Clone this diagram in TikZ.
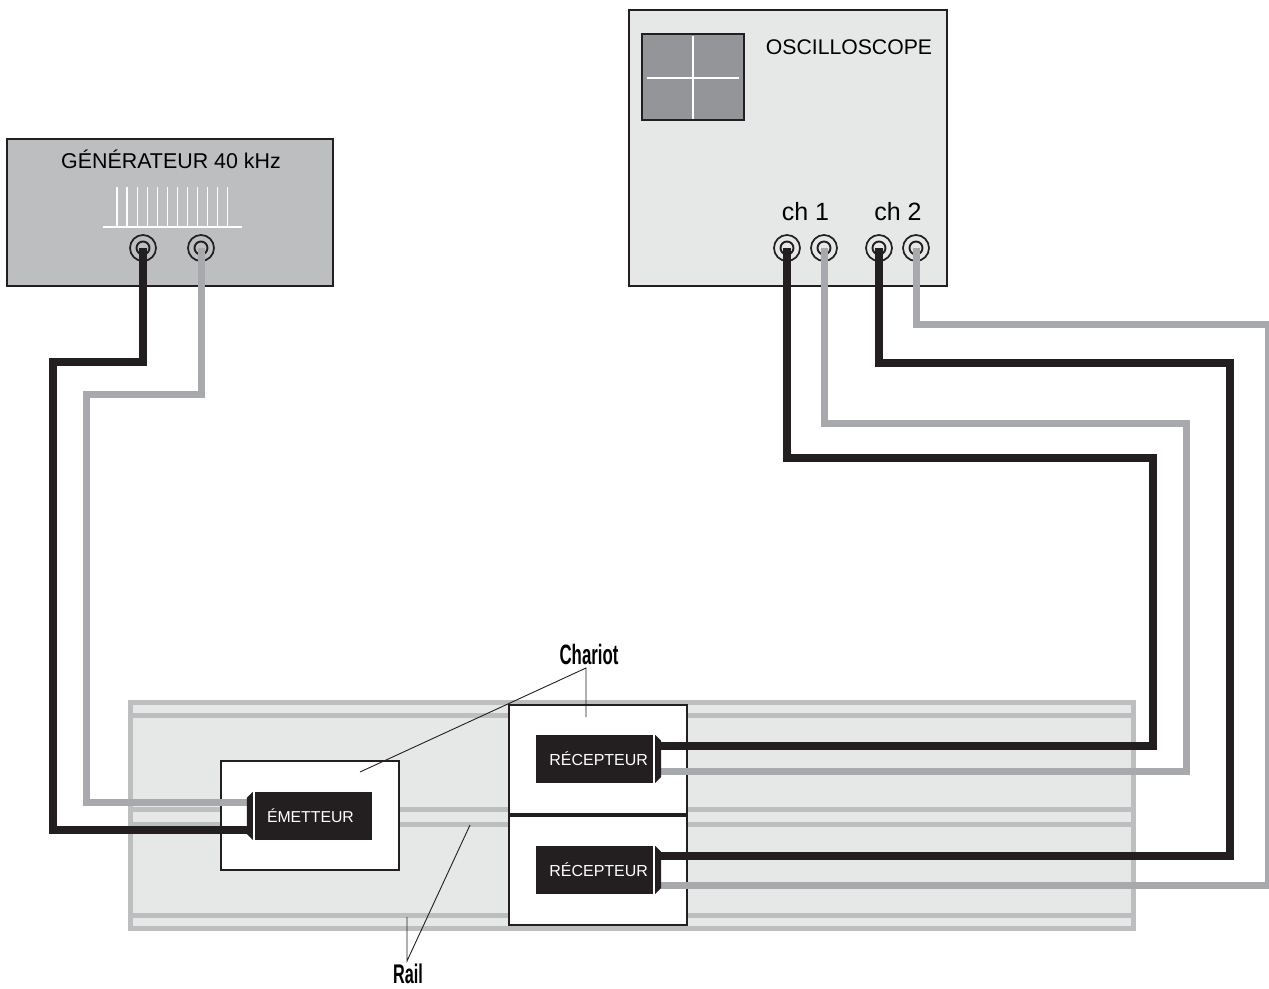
\documentclass[tikz,border=0pt]{standalone}
\usepackage{fontspec}
\setmainfont{Liberation Sans}
\newfontfamily\narrowfont[FakeStretch=0.6]{Liberation Sans Bold}
\usepackage{xcolor}
\usepackage{tikz}
\usetikzlibrary{calc}
\definecolor{inkblack}{RGB}{35,31,32}
\definecolor{wiregray}{RGB}{167,169,172}
\definecolor{railgray}{RGB}{188,190,192}
\definecolor{panelgray}{RGB}{230,231,231}
\definecolor{screengray}{RGB}{147,149,152}
\newcommand{\sized}[1]{\fontsize{#1}{#1}\selectfont}
\tikzstyle{panel} = [draw=inkblack, line width=2pt, inner sep=0pt]
\tikzstyle{jack} = [circle, draw=inkblack, line width=1.7pt, minimum size=26pt, inner sep=0pt]
\tikzstyle{jackin} = [circle, draw=inkblack, line width=1.9pt, minimum size=13pt, inner sep=0pt]
\tikzstyle{wireblack} = [draw=inkblack, line width=7.4pt]
\tikzstyle{wiregrey} = [draw=wiregray, line width=7pt]
\tikzstyle{railband} = [draw=railgray, line width=5pt]
\tikzstyle{chariot} = [panel, fill=white, minimum width=178pt, minimum height=109pt]
\tikzstyle{probe} = [fill=inkblack, text=white, inner ysep=0pt, minimum height=48pt, minimum width=117pt]
\tikzstyle{leader} = [draw=inkblack, line width=0.9pt]

\begin{document}
\begin{tikzpicture}[x=1pt, y=-1pt]
        \useasboundingbox (0,0) rectangle (1269,988);

        \draw[railband, fill=panelgray] (130.5,702.5) rectangle (1133.5,928.5);
        \foreach \y in {715, 809.5, 824.5, 915.5} {
            \draw[railband] (128,\y) -- (1136,\y);
        }

        \node[panel, fill=railgray, minimum width=326pt, minimum height=147pt] (generateur) at (170,212.5) {};
        \node[anchor=center] (generateurtitre) at (171,159) {\sized{21.4}GÉNÉRATEUR 40 kHz};
        \draw[white, line width=1.3pt] (103,227) -- (242,227);
        \foreach \i in {0,...,11} {
            \draw[white, line width=1.2pt] ({117+10.05*\i},187) -- ({117+10.05*\i},227);
        }

        \node[panel, fill=panelgray, minimum width=318pt, minimum height=276pt] (oscilloscope) at (788,148) {};
        \node[panel, fill=screengray, minimum width=102pt, minimum height=86pt] (ecran) at (693,77) {};
        \draw[white, line width=1.1pt] (647,78) -- (739,78);
        \draw[white, line width=1.1pt] (693,36) -- (693,119);
        \node (oscillotitre) at (849,47.5) {\sized{21.2}OSCILLOSCOPE};
        \node (chun) at (805.5,211.5) {\sized{25}ch 1};
        \node (chdeux) at (898,211.5) {\sized{25}ch 2};

        \foreach \n/\x in {genA/143, genB/201, chA/787, chB/824, chC/879, chD/916} {
            \node[jack] (\n) at (\x,248) {};
            \node[jackin] (\n in) at (\x,248) {};
        }

        \node[chariot] (chariotE) at (309.5,815) {};
        \node[chariot] (chariotA) at (598,759.5) {};
        \node[chariot] (chariotB) at (598,870) {};

        \coordinate (emA) at (248,802);
        \coordinate (emB) at (248,830);
        \coordinate (recA) at (660,746);
        \coordinate (recB) at (660,771);
        \coordinate (recC) at (660,856);
        \coordinate (recD) at (660,885);

        \draw[wireblack] (genA.center) |- (53,362) |- (emB);
        \draw[wiregrey] (genB.center) |- (86,394) |- (emA);
        \draw[wireblack] (chA.center) |- (1153,458) |- (recA);
        \draw[wiregrey] (chB.center) |- (1186,423) |- (recB);
        \draw[wireblack] (chC.center) |- (1230,363) |- (recC);
        \draw[wiregrey] (chD.center) |- (1268,324) |- (recD);

        \node[probe, text width=93pt, inner xsep=12pt, align=left] (emetteur) at (313.5,816) {\sized{15.8}\raisebox{-1pt}{ÉMETTEUR}};
        \node[probe, text width=107pt, inner xsep=5pt, align=right] (recepteurA) at (594.5,759) {\sized{16}\raisebox{-2pt}{RÉCEPTEUR}};
        \node[probe, text width=107pt, inner xsep=5pt, align=right] (recepteurB) at (594.5,870) {\sized{16}\raisebox{-1pt}{RÉCEPTEUR}};

        \fill[inkblack] ([xshift=-2pt]emetteur.north west) -- ++(-6,6) -- ++(0,36) -- ++(6,6) -- cycle;
        \fill[inkblack] ([xshift=2pt]recepteurA.north east) -- ++(6,6) -- ++(0,36) -- ++(-6,6) -- cycle;
        \fill[inkblack] ([xshift=2pt]recepteurB.north east) -- ++(6,6) -- ++(0,36) -- ++(-6,6) -- cycle;

        \node[inner sep=0pt] (chariot) at (589,654) {\narrowfont\sized{28}Chariot};
        \node[inner sep=0pt] (rail) at (408,973.5) {\narrowfont\sized{27}Rail};
        \coordinate (chariotbout) at (586,668);
        \coordinate (railbout) at (407,961);

        \draw[leader] (360,772) -- (chariotbout) -- (586,717);
        \draw[leader] (407,917) -- (railbout) -- (470,825);
\end{tikzpicture}
\end{document}
